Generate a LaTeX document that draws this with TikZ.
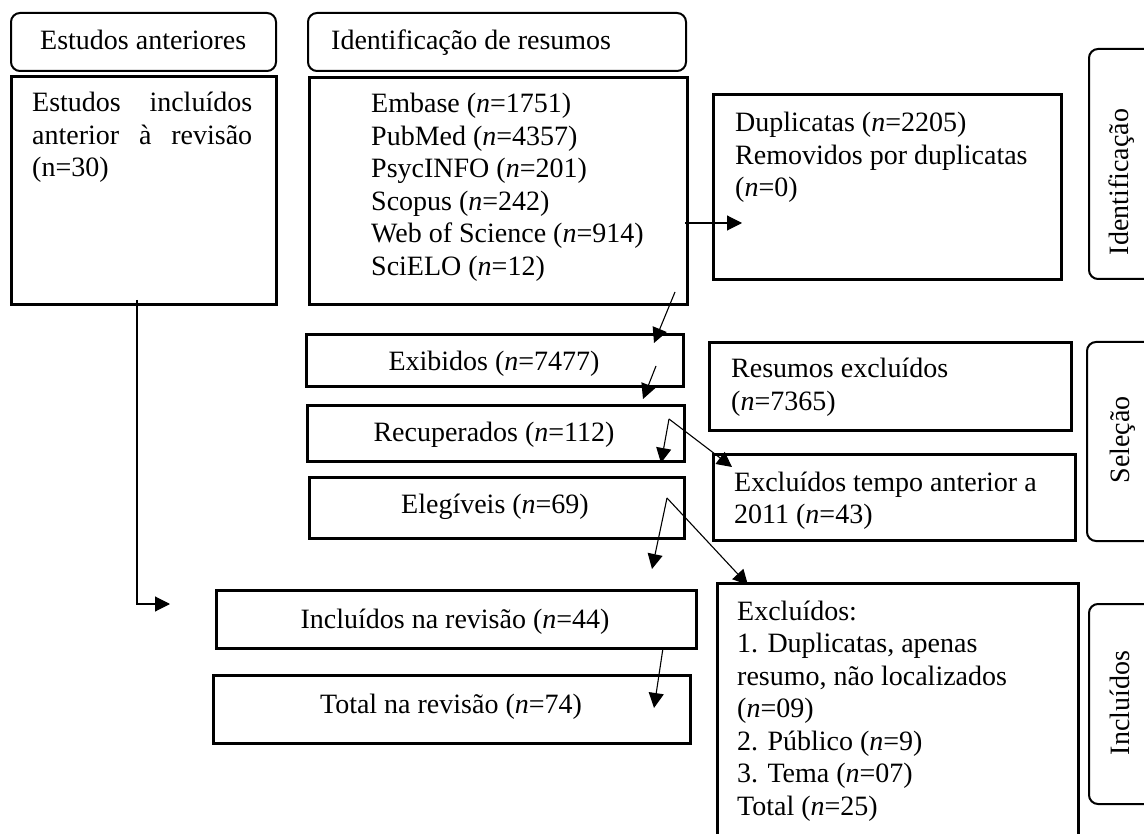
\documentclass[tikz,border=0pt]{standalone}
\usepackage{fontspec}
\setmainfont{Liberation Serif}
\usetikzlibrary{arrows.meta}
\begin{document}
\begin{tikzpicture}[x=1pt,y=-1pt,
  rect/.style={draw=black, line width=2.6pt, inner sep=0pt, anchor=north west},
  rbox/.style={draw=black, line width=2pt, rounded corners=9pt, inner sep=0pt, anchor=north west},
  txt/.style={inner sep=0pt, font=\fontsize{28}{32.5}\selectfont, text=black},
  conn/.style={line width=1.1pt, -{Triangle[length=15pt,width=15pt]}}
]
\useasboundingbox (0,0) rectangle (1144,834);
\clip (0,0) rectangle (1144,834);

% boxes
\node[rbox, minimum width=265pt, minimum height=58pt] (estA) at (10,12) {};
\node[rbox, minimum width=378pt, minimum height=58pt] (idR) at (307,12) {};
\node[rect, minimum width=265pt, minimum height=228pt] (estB) at (10,75) {};
\node[rect, minimum width=378pt, minimum height=227pt] (db) at (308,76) {};
\node[rect, minimum width=348pt, minimum height=185pt] (dup) at (712,93) {};
\node[rbox, minimum width=100pt, minimum height=230pt] (sideI) at (1088,48) {};
\node[rect, minimum width=377pt, minimum height=52pt] (exib) at (305,333) {};
\node[rect, minimum width=377pt, minimum height=56pt] (recup) at (306,404) {};
\node[rect, minimum width=375pt, minimum height=61pt] (eleg) at (308,476) {};
\node[rect, minimum width=362pt, minimum height=88pt] (resx) at (708,341) {};
\node[rect, minimum width=362pt, minimum height=86pt] (tempo) at (712,453) {};
\node[rbox, minimum width=100pt, minimum height=199pt] (sideS) at (1086,341) {};
\node[rect, minimum width=480pt, minimum height=58pt] (incl) at (215,589) {};
\node[rect, minimum width=477pt, minimum height=68pt] (total) at (212,674) {};
\node[rect, minimum width=361pt, minimum height=290pt] (excl) at (716,582) {};
\node[rbox, minimum width=100pt, minimum height=200pt] (sideC) at (1088,603) {};

% texts
\node[txt, anchor=base west] (tEstA) at (40,50) {Estudos anteriores};
\node[txt, anchor=base west] (tIdR) at (331,50) {Identificação de resumos};
\node[txt, anchor=base west] (tEstB) at (32,112) {\begin{tabular}[t]{@{}l@{}}\makebox[220pt][s]{Estudos incluídos}\\ \makebox[220pt][s]{anterior à revisão}\\ (n=30)\end{tabular}};
\node[txt, anchor=base west] (tDb) at (371,113) {\begin{tabular}[t]{@{}l@{}}Embase (\textit{n}=1751)\\ PubMed (\textit{n}=4357)\\ PsycINFO (\textit{n}=201)\\ Scopus (\textit{n}=242)\\ Web of Science (\textit{n}=914)\\ SciELO (\textit{n}=12)\end{tabular}};
\node[txt, anchor=base west] (tDup) at (735,132) {\begin{tabular}[t]{@{}l@{}}Duplicatas (\textit{n}=2205)\\ Removidos por duplicatas\\ (\textit{n}=0)\end{tabular}};
\node[txt, anchor=base] (tExib) at (494,371) {Exibidos (\textit{n}=7477)};
\node[txt, anchor=base] (tRecup) at (494,442) {Recuperados (\textit{n}=112)};
\node[txt, anchor=base] (tEleg) at (495,513) {Elegíveis (\textit{n}=69)};
\node[txt, anchor=base west] (tResx) at (731,378) {\begin{tabular}[t]{@{}l@{}}Resumos excluídos\\ (\textit{n}=7365)\end{tabular}};
\node[txt, anchor=base west] (tTempo) at (734,491) {\begin{tabular}[t]{@{}l@{}}Excluídos tempo anterior a\\ 2011 (\textit{n}=43)\end{tabular}};
\node[txt, anchor=base] (tIncl) at (455,628) {Incluídos na revisão (\textit{n}=44)};
\node[txt, anchor=base] (tTotal) at (451,713) {Total na revisão (\textit{n}=74)};
\node[txt, anchor=base west] (tExcl) at (737,620) {\begin{tabular}[t]{@{}l@{}}Excluídos:\\ 1. Duplicatas, apenas\\ resumo, não localizados\\ (\textit{n}=09)\\ 2. Público (\textit{n}=9)\\ 3. Tema (\textit{n}=07)\\ Total (\textit{n}=25)\end{tabular}};
\node[txt, anchor=base, rotate=90] (tSideI) at (1128,182) {Identificação};
\node[txt, anchor=base, rotate=90] (tSideS) at (1129,440) {Seleção};
\node[txt, anchor=base, rotate=90] (tSideC) at (1129,703) {Incluídos};

% connector end points
\coordinate (dbR) at (685,223);
\coordinate (dupIn) at (742,223);
\coordinate (dbOut) at (675,292);
\coordinate (exibIn) at (654,343);
\coordinate (exibOut) at (656,366);
\coordinate (recupIn) at (643,399);
\coordinate (recupOut) at (669,419);
\coordinate (elegIn) at (661,463);
\coordinate (tempoIn) at (732,467);
\coordinate (elegOut) at (667,498);
\coordinate (inclIn) at (652,569);
\coordinate (exclIn) at (748,585);
\coordinate (inclOut) at (663,648);
\coordinate (totalIn) at (654,708);
\coordinate (estOut) at (137,300);
\coordinate (inclLeft) at (170,604);

% connectors
\draw[conn] (dbR) -- (dupIn);
\draw[conn] (dbOut) -- (exibIn);
\draw[conn] (exibOut) -- (recupIn);
\draw[conn] (recupOut) -- (elegIn);
\draw[conn] (recupOut) -- (tempoIn);
\draw[conn] (elegOut) -- (inclIn);
\draw[conn] (elegOut) -- (exclIn);
\draw[conn] (inclOut) -- (totalIn);
\draw[conn] (estOut) |- (inclLeft);
\end{tikzpicture}
\end{document}
